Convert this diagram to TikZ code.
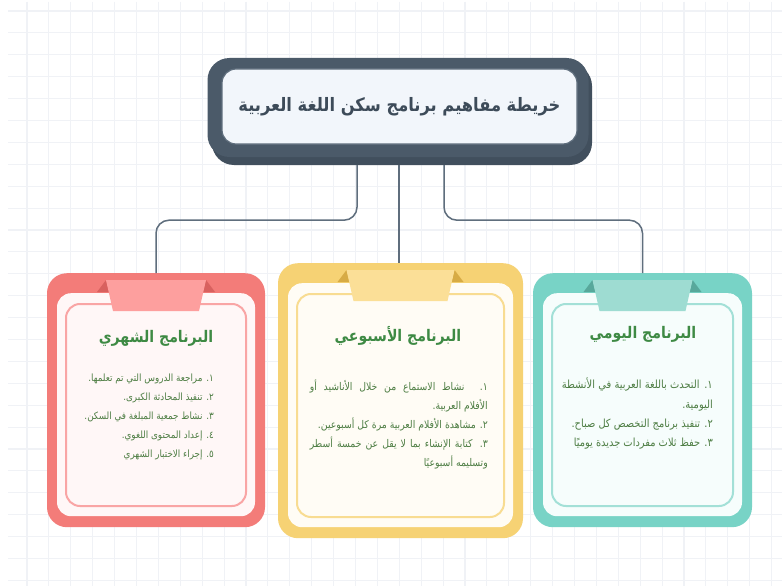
\documentclass[tikz,border=0pt]{standalone}
\usepackage{fontspec}
\newfontfamily\arabicfont[Script=Arabic,FakeStretch=0.88]{DejaVu Sans}
\TeXXeTstate=1
\newcommand{\artext}[1]{\beginR #1\endR}
\definecolor{gridc}{HTML}{F0F2F6}
\definecolor{linkc}{HTML}{5F6E7D}
\definecolor{framec}{HTML}{4B5A69}
\definecolor{shadec}{HTML}{414F5D}
\definecolor{titlefill}{HTML}{F2F6FB}
\definecolor{titletext}{HTML}{3D4B59}
\definecolor{headc}{HTML}{3E8A44}
\definecolor{itemc}{HTML}{4D7D43}
\definecolor{pinkM}{HTML}{F37C79}
\definecolor{pinkT}{HTML}{FD9F9E}
\definecolor{pinkD}{HTML}{D8615F}
\definecolor{pinkI}{HTML}{FFF7F7}
\definecolor{pinkE}{HTML}{F9A5A5}
\definecolor{yelM}{HTML}{F6D274}
\definecolor{yelT}{HTML}{FBDF97}
\definecolor{yelD}{HTML}{D7AB45}
\definecolor{yelI}{HTML}{FFFCF5}
\definecolor{yelE}{HTML}{F8DC92}
\definecolor{tealM}{HTML}{78D3C6}
\definecolor{tealT}{HTML}{9EDCD2}
\definecolor{tealD}{HTML}{58A89B}
\definecolor{tealI}{HTML}{F6FDFC}
\definecolor{tealE}{HTML}{A3E0D7}
\tikzset{
  gridline/.style={draw=gridc, line width=1.1pt},
  link/.style={draw=linkc, line width=1.5pt, rounded corners=13pt},
  card/.style={rounded corners=20pt, inner sep=0pt},
  cardin/.style={rounded corners=14pt, inner sep=0pt},
  heading/.style={text=headc, font=\arabicfont\bfseries\fontsize{16}{19}\selectfont},
  items/.style={text=itemc, align=right, inner sep=0pt}
}
\begin{document}
\begin{tikzpicture}[x=1pt,y=-1pt]
\useasboundingbox (0,0) rectangle (782,586);
\fill[white] (0,0) rectangle (782,586);
\foreach \gx in {27,48.9,...,782}{
    \draw[gridline] (\gx,2) -- (\gx,586);
}
\foreach \gy in {11,32.9,...,586}{
    \draw[gridline] (8,\gy) -- (782,\gy);
}
\foreach \nm/\cx/\ty/\w/\h/\tw/\main/\tab/\fold/\inn/\edge in {
    monthly/156/273/218/254/50/pinkM/pinkT/pinkD/pinkI/pinkE,
    weekly/400.5/263/245/275/54/yelM/yelT/yelD/yelI/yelE,
    daily/642.5/273/219/254/50/tealM/tealT/tealD/tealI/tealE}{
    \node[card, fill=\main, minimum width=\w, minimum height=\h, anchor=north] (\nm) at (\cx,\ty) {};
    \fill[\fold] (\cx-\tw-9,\ty+19) -- (\cx-\tw,\ty+7) -- (\cx-\tw+3,\ty+19) -- cycle;
    \fill[\fold] (\cx+\tw+9,\ty+19) -- (\cx+\tw,\ty+7) -- (\cx+\tw-3,\ty+19) -- cycle;
    \node[cardin, fill=\inn, minimum width=\w-20, minimum height=\h-31, anchor=north] (\nm-in) at (\cx,\ty+20) {};
    \node[cardin, draw=\edge, line width=2pt, minimum width=\w-38, minimum height=\h-52, anchor=north] (\nm-edge) at (\cx,\ty+30) {};
    \fill[\tab] (\cx-\tw,\ty+7) -- (\cx+\tw,\ty+7) -- (\cx+\tw-7,\ty+38) -- (\cx-\tw+7,\ty+38) -- cycle;
}
\fill[shadec, rounded corners=22pt] (212,64) rectangle (592,165);
\node[card, fill=framec, rounded corners=22pt, minimum width=381, minimum height=99] (frame) at (398,107.5) {};
\node[cardin, fill=titlefill, draw=linkc, line width=1.2pt, minimum width=355, minimum height=75,
    text=titletext, font=\arabicfont\bfseries\fontsize{18.5}{22}\selectfont] (title) at (399.5,106.5)
    {\artext{خريطة مفاهيم برنامج سكن اللغة العربية}};
\draw[link] ([xshift=-41pt,yshift=-8pt]frame.south) -- ++(0,55) -| (monthly.north);
\draw[link] ([xshift=1pt,yshift=-8pt]frame.south) -- ([xshift=1pt]frame.south |- weekly.north);
\draw[link] ([xshift=46pt,yshift=-8pt]frame.south) -- ++(0,55) -| (daily.north);
\node[heading] (monthly-head) at (156,338) {\artext{البرنامج الشهري}};
\node[heading] (weekly-head) at (398,336) {\artext{البرنامج الأسبوعي}};
\node[heading] (daily-head) at (643,334) {\artext{البرنامج اليومي}};
\node[items, anchor=north east, font=\arabicfont\fontsize{10}{19}\selectfont] (monthly-list) at (214,374) {
    \artext{١. مراجعة الدروس التي تم تعلمها.}\\
    \artext{٢. تنفيذ المحادثة الكبرى.}\\
    \artext{٣. نشاط جمعية المبلغة في السكن.}\\
    \artext{٤. إعداد المحتوى اللغوي.}\\
    \artext{٥. إجراء الاختبار الشهري}};
\node[items, anchor=north east, font=\arabicfont\fontsize{10.6}{19}\selectfont] (weekly-list) at (488,380) {
    \hbox to 178pt{\artext{١. نشاط الاستماع من خلال الأناشيد أو}}\\
    \artext{الأفلام العربية.}\\
    \artext{٢. مشاهدة الأفلام العربية مرة كل أسبوعين.}\\
    \hbox to 178pt{\artext{٣. كتابة الإنشاء بما لا يقل عن خمسة أسطر}}\\
    \artext{وتسليمه أسبوعيًا}};
\node[items, anchor=north east, font=\arabicfont\fontsize{11.2}{19.3}\selectfont] (daily-list) at (713,378) {
    \hbox to 151pt{\artext{١. التحدث باللغة العربية في الأنشطة}}\\
    \artext{اليومية.}\\
    \artext{٢. تنفيذ برنامج التخصص كل صباح.}\\
    \artext{٣. حفظ ثلاث مفردات جديدة يوميًا}};
\end{tikzpicture}
\end{document}
